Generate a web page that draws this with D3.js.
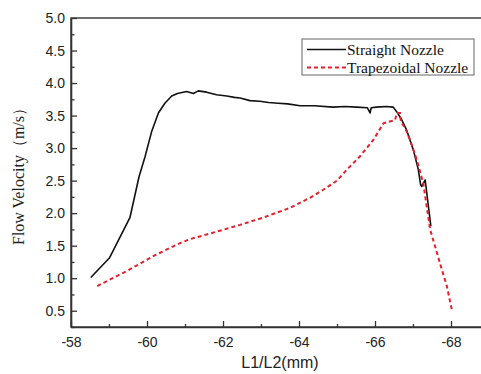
<!DOCTYPE html>
<html>
<head>
<meta charset="utf-8">
<script src="https://cdn.jsdelivr.net/npm/d3@7"></script>
<style>
  body { margin: 0; background: #fff; }
  svg { display: block; }
</style>
</head>
<body>
<svg id="chart" width="481" height="374"></svg>
<script>
// flow velocity along the nozzle
const straightX = [-58.52, -59.01, -59.55, -59.79, -59.95, -60.12, -60.30, -60.47, -60.65, -60.80, -61.04, -61.22, -61.35, -61.57, -61.83,
  -62.10, -62.30, -62.45, -62.71, -62.97, -63.20, -63.45, -63.70, -64.03, -64.40, -64.90, -65.20, -65.52, -65.80, -65.87, -65.90,
  -66.04, -66.30, -66.48, -66.57, -66.70, -66.83, -67.01, -67.14, -67.20, -67.23, -67.32, -67.47];
const straightY = [1.01, 1.31, 1.93, 2.56, 2.87, 3.25, 3.54, 3.69, 3.80, 3.84, 3.87, 3.84, 3.88, 3.86, 3.82,
  3.80, 3.78, 3.77, 3.73, 3.72, 3.70, 3.69, 3.68, 3.65, 3.65, 3.63, 3.64, 3.63, 3.62, 3.54, 3.62,
  3.63, 3.64, 3.63, 3.56, 3.44, 3.28, 2.97, 2.67, 2.44, 2.41, 2.51, 1.80];

const trapX = [-58.69, -59.50, -60.20, -60.87, -61.13, -61.80, -62.45, -63.10, -63.76, -64.30, -64.64, -65.00, -65.26, -65.60, -65.96,
  -66.22, -66.39, -66.53, -66.57, -66.66, -66.68, -66.80, -66.92, -67.10, -67.27, -67.45, -67.71, -67.89, -68.02];
const trapY = [0.88, 1.12, 1.35, 1.54, 1.60, 1.71, 1.82, 1.94, 2.08, 2.24, 2.36, 2.50, 2.67, 2.87, 3.13,
  3.38, 3.41, 3.43, 3.54, 3.54, 3.41, 3.30, 3.13, 2.82, 2.46, 1.75, 1.23, 0.88, 0.52];

const xTicks = [-58, -60, -62, -64, -66, -68];
const xMinor = [-59, -61, -63, -65, -67];
const yTicks = [0.5, 1.0, 1.5, 2.0, 2.5, 3.0, 3.5, 4.0, 4.5, 5.0];
const yMinor = [0.25, 0.75, 1.25, 1.75, 2.25, 2.75, 3.25, 3.75, 4.25, 4.75];

const seriesNames = ["Straight Nozzle", "Trapezoidal Nozzle"];

const margin = { top: 18, left: 71, bottom: 327 };
const svg = d3.select("#chart");

const x = d3.scaleLinear().domain([-58, -69]).range([margin.left, margin.left + 11 * 38]);
const y = d3.scaleLinear().domain([0.25, 5.0]).range([margin.bottom, margin.top]);

const axisColor = "#333";
const labelFont = "'Liberation Sans', Arial, sans-serif";
const serifFont = "'Liberation Serif', 'Times New Roman', serif";

// frame (top line, right side goes past the window)
svg.append("rect")
  .attr("x", x(-58)).attr("y", y(5.0))
  .attr("width", x(-69) - x(-58)).attr("height", y(0.25) - y(5.0))
  .attr("fill", "none").attr("stroke", axisColor).attr("stroke-width", 1.4);

// minor ticks
const xMinorAxis = d3.axisBottom(x).tickValues(xMinor).tickSizeInner(-3).tickSizeOuter(0).tickFormat("");
const yMinorAxis = d3.axisLeft(y).tickValues(yMinor).tickSizeInner(-3.5).tickSizeOuter(0).tickFormat("");

svg.append("g").attr("transform", `translate(0,${y(0.25)})`).call(xMinorAxis)
  .call(g => g.select(".domain").remove())
  .selectAll("line").attr("stroke", axisColor).attr("stroke-width", 1.3);
svg.append("g").attr("transform", `translate(${x(-58)},0)`).call(yMinorAxis)
  .call(g => g.select(".domain").remove())
  .selectAll("line").attr("stroke", axisColor).attr("stroke-width", 1.3);

// major axes
const xAxis = d3.axisBottom(x).tickValues(xTicks).tickSizeInner(-6).tickSizeOuter(0).tickPadding(7)
  .tickFormat(d => d3.format("d")(d).replace("−", "-"));
const yAxis = d3.axisLeft(y).tickValues(yTicks).tickSizeInner(-6).tickSizeOuter(0).tickPadding(6)
  .tickFormat(d3.format(".1f"));

const gx = svg.append("g").attr("transform", `translate(0,${y(0.25)})`).call(xAxis);
gx.select(".domain").attr("stroke", axisColor).attr("stroke-width", 1.6);
gx.selectAll("line").attr("stroke", axisColor).attr("stroke-width", 1.3);
gx.selectAll("text").attr("font-family", labelFont).attr("font-size", 14).attr("fill", "#222").attr("dy", "0.9em");

const gy = svg.append("g").attr("transform", `translate(${x(-58)},0)`).call(yAxis);
gy.select(".domain").attr("stroke", axisColor).attr("stroke-width", 1.6);
gy.selectAll("line").attr("stroke", axisColor).attr("stroke-width", 1.3);
gy.selectAll("text").attr("font-family", labelFont).attr("font-size", 14).attr("fill", "#222");

// axis titles
svg.append("text")
  .attr("x", 280).attr("y", 368)
  .attr("text-anchor", "middle")
  .attr("font-family", labelFont).attr("font-size", 16).attr("fill", "#222")
  .text("L1/L2(mm)");

svg.append("text")
  .attr("transform", `translate(24,${(y(0.25) + y(5.0)) / 2}) rotate(-90)`)
  .attr("text-anchor", "middle")
  .attr("font-family", serifFont).attr("font-size", 16).attr("fill", "#222")
  .text("Flow Velocity（m/s）");

// lines
const line = d3.line().x(d => x(d[0])).y(d => y(d[1]));
const straight = straightX.map((v, i) => [v, straightY[i]]);
const trap = trapX.map((v, i) => [v, trapY[i]]);

svg.append("path").datum(straight)
  .attr("d", line).attr("fill", "none")
  .attr("stroke", "#111").attr("stroke-width", 1.6).attr("stroke-linejoin", "round");

svg.append("path").datum(trap)
  .attr("d", line).attr("fill", "none")
  .attr("stroke", "#e3212d").attr("stroke-width", 2).attr("stroke-dasharray", "4,3");

// legend
const lg = svg.append("g").attr("transform", "translate(302,39)");
lg.append("rect").attr("width", 172).attr("height", 36)
  .attr("fill", "#fff").attr("stroke", "#666").attr("stroke-width", 1);
const styles = [{ stroke: "#111", dash: null, w: 1.6 }, { stroke: "#e3212d", dash: "4,3", w: 2 }];
seriesNames.forEach((name, i) => {
  const row = lg.append("g").attr("transform", `translate(0,${10.5 + i * 18})`);
  row.append("line").attr("x1", 5).attr("x2", 44)
    .attr("stroke", styles[i].stroke).attr("stroke-width", styles[i].w)
    .attr("stroke-dasharray", styles[i].dash);
  row.append("text").attr("x", 45).attr("y", 5.5)
    .attr("font-family", serifFont).attr("font-size", 15.5).attr("fill", "#111")
    .text(name);
});
</script>
</body>
</html>
